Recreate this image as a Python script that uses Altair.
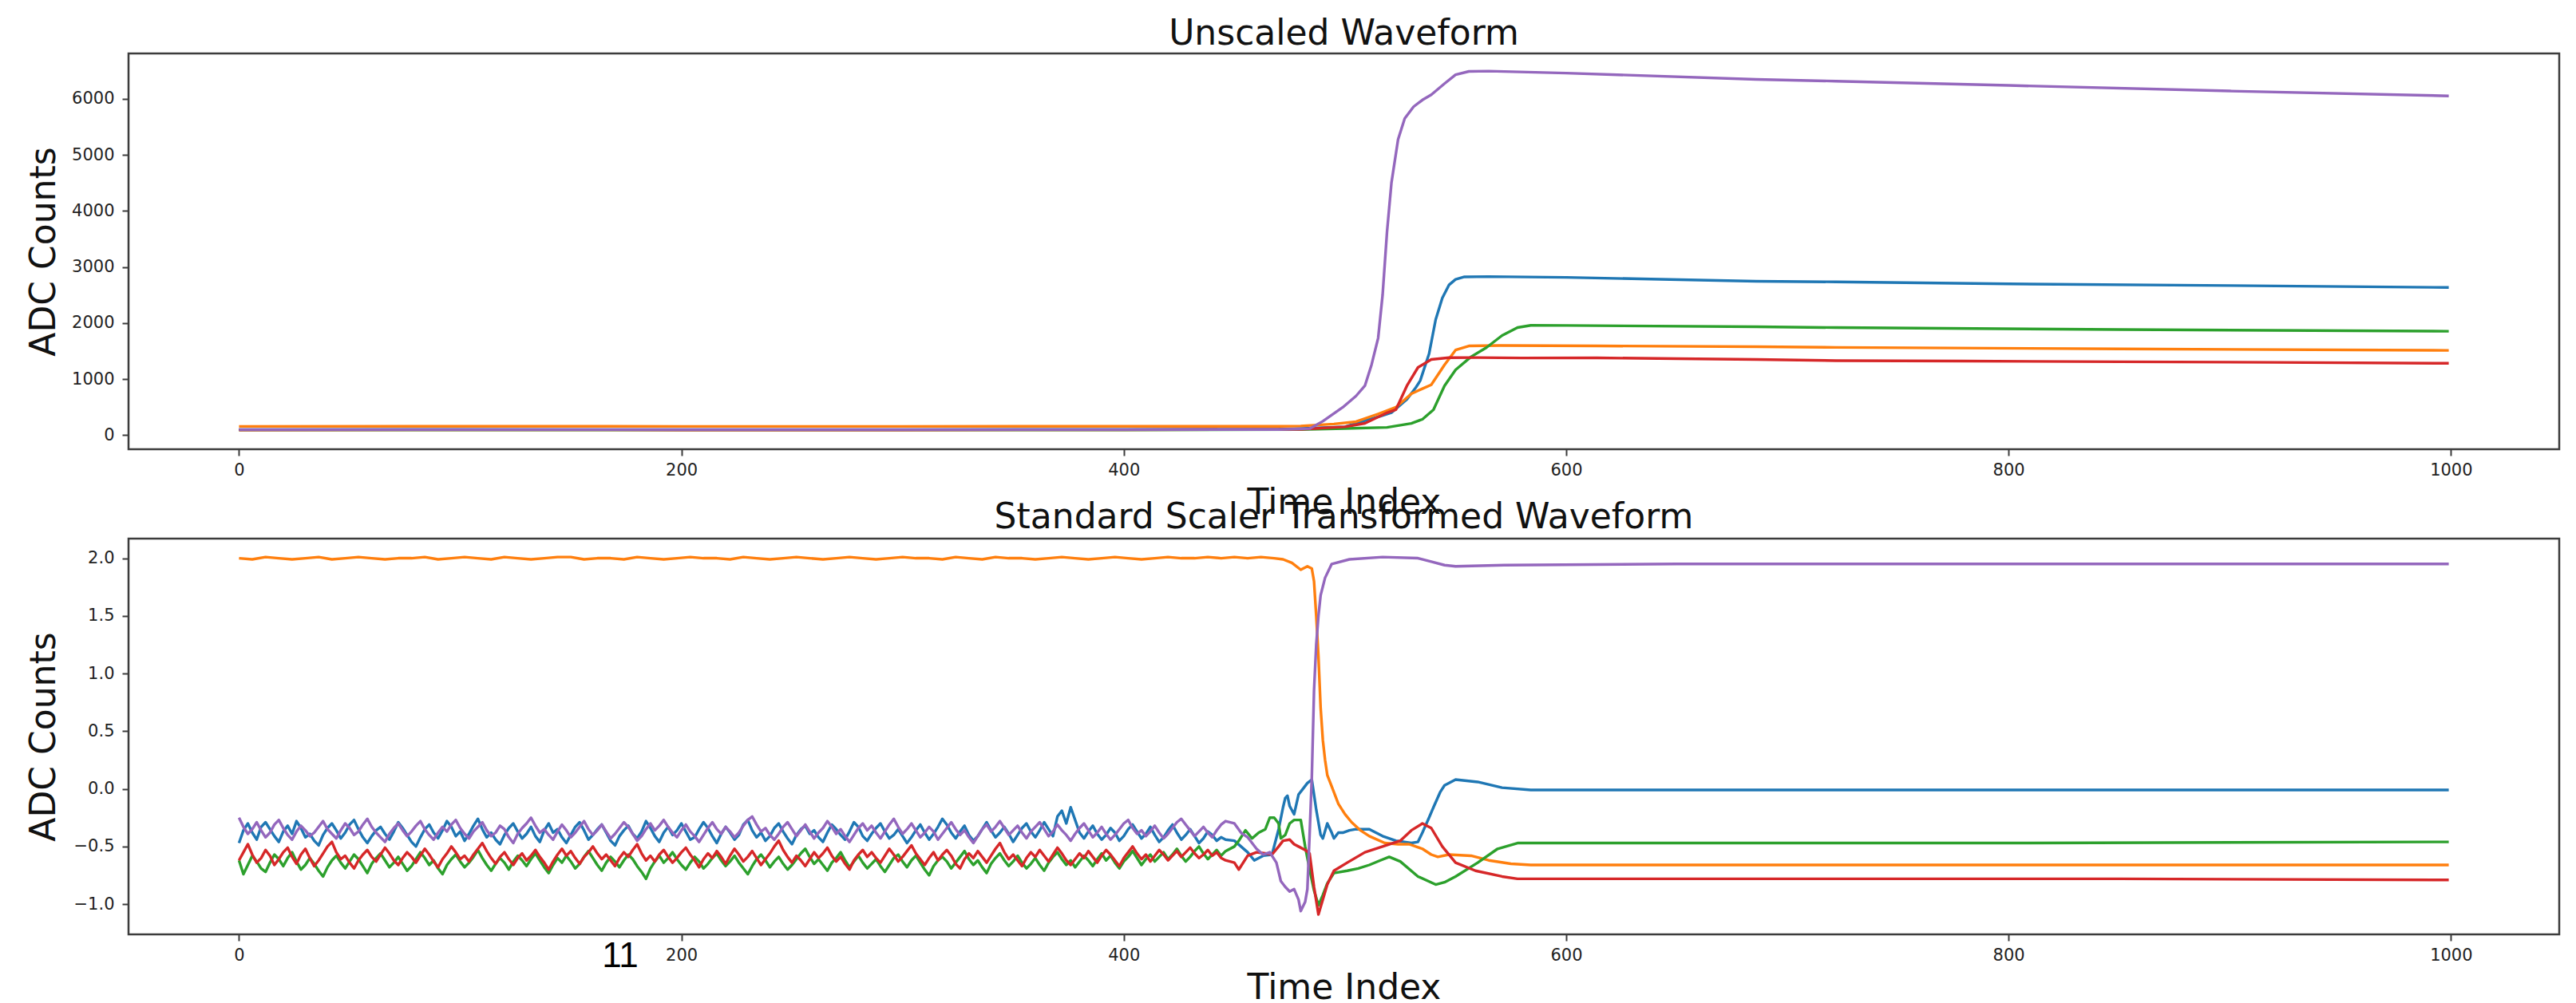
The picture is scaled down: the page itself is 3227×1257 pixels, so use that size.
import altair as alt
import pandas as pd

# Five waveform channels, matplotlib tab10 colours, drawn in this order
channels = ["ch0", "ch1", "ch2", "ch3", "ch4"]
colors = ["#1f77b4", "#ff7f0e", "#2ca02c", "#d62728", "#9467bd"]

x_ticks = [0, 200, 400, 600, 800, 1000]
top_y_ticks = [0, 1000, 2000, 3000, 4000, 5000, 6000]
bottom_y_ticks = [-1.0, -0.5, 0.0, 0.5, 1.0, 1.5, 2.0]
panel_titles = ["Unscaled Waveform", "Standard Scaler Transformed Waveform"]
page_label = ["11"]

# ---------------- Unscaled waveform (ADC counts) ----------------
blue_top_t = [0, 100, 200, 300, 400, 470, 500, 509, 516, 521, 528, 532, 534, 538, 541, 544, 547, 550, 554, 565, 600, 686, 722, 800, 900, 999]
blue_top_v = [101, 102, 100, 101, 102, 105, 150, 260, 340, 403, 640, 850, 972, 1450, 2063, 2446, 2680, 2780, 2825, 2830, 2815, 2747, 2735, 2700, 2670, 2635]

orange_top_t = [0, 100, 200, 300, 400, 470, 480, 495, 505, 515, 523, 530, 535, 539, 545, 550, 556, 570, 614, 686, 722, 850, 999]
orange_top_v = [158, 159, 158, 158, 159, 160, 165, 200, 242, 380, 498, 740, 830, 900, 1256, 1520, 1593, 1600, 1593, 1579, 1566, 1540, 1513]

green_top_t = [0, 100, 200, 300, 400, 480, 500, 519, 530, 535, 540, 545, 550, 557, 564, 571, 578, 584, 600, 686, 722, 850, 999]
green_top_v = [95, 96, 95, 95, 96, 100, 120, 140, 210, 284, 455, 882, 1166, 1399, 1565, 1778, 1920, 1960, 1958, 1934, 1920, 1885, 1855]

red_top_t = [0, 100, 200, 300, 400, 480, 500, 509, 519, 523, 528, 533, 539, 547, 560, 580, 614, 650, 686, 722, 780, 850, 920, 999]
red_top_v = [96, 97, 96, 96, 97, 105, 150, 213, 400, 455, 882, 1209, 1351, 1384, 1385, 1378, 1380, 1365, 1351, 1330, 1322, 1310, 1300, 1283]

purple_top_t = [0, 100, 200, 300, 400, 470, 484, 490, 499, 505, 509, 512, 515, 517, 519, 521, 524, 527, 531, 535, 539, 545, 550, 556, 565, 600, 686, 722, 800, 900, 999]
purple_top_v = [101, 100, 101, 100, 101, 102, 118, 250, 498, 700, 882, 1256, 1735, 2500, 3627, 4500, 5277, 5650, 5860, 5980, 6074, 6273, 6430, 6490, 6495, 6460, 6347, 6316, 6240, 6140, 6053]

# ---------------- Standard-scaled waveform ----------------
# pre-trigger baseline, one value every 2 samples (t = 0 .. 446)
noise_t = list(range(0, 447, 2))
blue_noise = [
    -0.47, -0.36, -0.30, -0.38, -0.44, -0.33, -0.29, -0.35, -0.41, -0.46, -0.37, -0.32, -0.39, -0.28, -0.34, -0.42,
    -0.39, -0.45, -0.49, -0.40, -0.34, -0.30, -0.36, -0.43, -0.38, -0.31, -0.27, -0.35, -0.42, -0.47, -0.41, -0.36,
    -0.33, -0.39, -0.44, -0.37, -0.29, -0.34, -0.40, -0.46, -0.50, -0.42, -0.35, -0.31, -0.38, -0.43, -0.36, -0.28,
    -0.33, -0.41, -0.37, -0.45, -0.39, -0.32, -0.26, -0.35, -0.42, -0.38, -0.44, -0.48, -0.40, -0.34, -0.30, -0.37,
    -0.43, -0.39, -0.33, -0.41, -0.46, -0.36, -0.30, -0.38, -0.35, -0.42, -0.47, -0.40, -0.33, -0.29, -0.36, -0.44,
    -0.40, -0.35, -0.31, -0.38, -0.45, -0.49, -0.41, -0.36, -0.32, -0.39, -0.43, -0.37, -0.28, -0.34, -0.41, -0.46,
    -0.38, -0.33, -0.40, -0.36, -0.30, -0.37, -0.44, -0.42, -0.35, -0.29, -0.34, -0.41, -0.47, -0.39, -0.33, -0.38,
    -0.44, -0.40, -0.31, -0.27, -0.36, -0.42, -0.38, -0.45, -0.41, -0.34, -0.30, -0.37, -0.43, -0.48, -0.40, -0.35,
    -0.32, -0.39, -0.36, -0.42, -0.46, -0.38, -0.31, -0.35, -0.40, -0.44, -0.37, -0.29, -0.33, -0.41, -0.45, -0.39,
    -0.34, -0.30, -0.37, -0.43, -0.40, -0.35, -0.41, -0.47, -0.42, -0.36, -0.31, -0.38, -0.44, -0.39, -0.33, -0.26,
    -0.31, -0.38, -0.43, -0.37, -0.32, -0.40, -0.45, -0.41, -0.35, -0.29, -0.36, -0.42, -0.38, -0.33, -0.39, -0.46,
    -0.40, -0.34, -0.30, -0.37, -0.42, -0.36, -0.29, -0.35, -0.41, -0.24, -0.19, -0.30, -0.16, -0.27, -0.38, -0.43,
    -0.37, -0.32, -0.39, -0.44, -0.40, -0.34, -0.38, -0.45, -0.41, -0.35, -0.31, -0.37, -0.43, -0.39, -0.33, -0.40,
    -0.46, -0.42, -0.36, -0.31, -0.38, -0.44, -0.40, -0.35, -0.41, -0.47, -0.43, -0.37, -0.40, -0.45, -0.42, -0.44,
]
purple_noise = [
    -0.25, -0.33, -0.39, -0.35, -0.29, -0.36, -0.42, -0.38, -0.31, -0.27, -0.34, -0.40, -0.44, -0.37, -0.32, -0.36,
    -0.41, -0.38, -0.33, -0.28, -0.35, -0.39, -0.43, -0.36, -0.30, -0.34, -0.40, -0.37, -0.31, -0.26, -0.33, -0.38,
    -0.42, -0.46, -0.39, -0.34, -0.30, -0.36, -0.41, -0.37, -0.32, -0.28, -0.35, -0.40, -0.44, -0.38, -0.33, -0.37,
    -0.31, -0.27, -0.34, -0.39, -0.43, -0.37, -0.33, -0.29, -0.36, -0.41, -0.38, -0.32, -0.35, -0.42, -0.47, -0.39,
    -0.34, -0.30, -0.25, -0.32, -0.38, -0.35, -0.40, -0.44, -0.37, -0.31, -0.36, -0.42, -0.38, -0.33, -0.28, -0.35,
    -0.40, -0.36, -0.31, -0.37, -0.43, -0.39, -0.34, -0.29, -0.33, -0.39, -0.45, -0.41, -0.35, -0.30, -0.36, -0.32,
    -0.27, -0.33, -0.38, -0.42, -0.36, -0.31, -0.37, -0.41, -0.46, -0.40, -0.34, -0.29, -0.35, -0.39, -0.33, -0.37,
    -0.42, -0.38, -0.32, -0.27, -0.24, -0.31, -0.37, -0.34, -0.40, -0.44, -0.39, -0.33, -0.29, -0.35, -0.41, -0.36,
    -0.31, -0.37, -0.43, -0.38, -0.34, -0.28, -0.33, -0.39, -0.35, -0.41, -0.46, -0.40, -0.34, -0.30, -0.36, -0.32,
    -0.38, -0.43, -0.37, -0.31, -0.26, -0.33, -0.39, -0.35, -0.30, -0.36, -0.42, -0.38, -0.33, -0.37, -0.44, -0.39,
    -0.34, -0.29, -0.35, -0.40, -0.36, -0.42, -0.47, -0.41, -0.35, -0.31, -0.37, -0.33, -0.28, -0.34, -0.40, -0.36,
    -0.32, -0.38, -0.43, -0.37, -0.33, -0.29, -0.35, -0.41, -0.37, -0.31, -0.36, -0.40, -0.45, -0.39, -0.34, -0.30,
    -0.36, -0.42, -0.38, -0.33, -0.39, -0.44, -0.40, -0.35, -0.30, -0.27, -0.34, -0.39, -0.36, -0.41, -0.37, -0.32,
    -0.38, -0.43, -0.39, -0.34, -0.29, -0.26, -0.31, -0.36, -0.41, -0.37, -0.33, -0.38, -0.42, -0.36, -0.31, -0.28,
]
red_noise = [
    -0.62, -0.55, -0.48, -0.57, -0.64, -0.60, -0.53, -0.58, -0.66, -0.61, -0.55, -0.51, -0.59, -0.65, -0.57, -0.52,
    -0.60, -0.67, -0.62, -0.56, -0.50, -0.46, -0.55, -0.61, -0.58, -0.64, -0.69, -0.62, -0.57, -0.53, -0.59, -0.63,
    -0.57, -0.51, -0.56, -0.62, -0.66, -0.60, -0.55, -0.59, -0.64, -0.58, -0.52, -0.57, -0.63, -0.68, -0.61, -0.56,
    -0.50, -0.55, -0.61, -0.58, -0.63, -0.57, -0.52, -0.47, -0.54, -0.60, -0.65, -0.59, -0.55, -0.61, -0.66, -0.60,
    -0.56, -0.62, -0.58, -0.53, -0.59, -0.64, -0.70, -0.63, -0.57, -0.52, -0.58, -0.54, -0.60, -0.65, -0.59, -0.55,
    -0.50, -0.56, -0.61, -0.57, -0.62, -0.67, -0.60, -0.55, -0.59, -0.53, -0.48, -0.56, -0.62, -0.58, -0.63, -0.57,
    -0.53, -0.59, -0.64, -0.60, -0.55, -0.51, -0.57, -0.62, -0.68, -0.61, -0.56, -0.60, -0.54, -0.59, -0.65, -0.58,
    -0.52, -0.57, -0.63, -0.59, -0.54, -0.60, -0.66, -0.61, -0.56, -0.50, -0.45, -0.53, -0.59, -0.64, -0.58, -0.62,
    -0.67, -0.61, -0.55, -0.60, -0.56, -0.51, -0.58, -0.63, -0.59, -0.65, -0.70, -0.62, -0.57, -0.53, -0.59, -0.55,
    -0.60, -0.64, -0.58, -0.52, -0.57, -0.63, -0.59, -0.54, -0.49, -0.56, -0.61, -0.66, -0.60, -0.55, -0.62, -0.57,
    -0.53, -0.58, -0.65, -0.69, -0.61, -0.56, -0.60, -0.54, -0.59, -0.64, -0.58, -0.52, -0.47, -0.55, -0.61, -0.57,
    -0.62, -0.67, -0.60, -0.55, -0.59, -0.53, -0.58, -0.63, -0.57, -0.51, -0.56, -0.62, -0.66, -0.61, -0.56, -0.60,
    -0.54, -0.59, -0.64, -0.58, -0.53, -0.57, -0.62, -0.67, -0.60, -0.55, -0.50, -0.56, -0.61, -0.57, -0.63, -0.58,
    -0.53, -0.57, -0.62, -0.58, -0.54, -0.59, -0.55, -0.51, -0.56, -0.60, -0.57, -0.53, -0.58, -0.55, -0.60, -0.62,
]
green_noise = [
    -0.62, -0.74, -0.66, -0.58, -0.63, -0.69, -0.72, -0.64, -0.57, -0.61, -0.67, -0.60, -0.55, -0.63, -0.70, -0.66,
    -0.60, -0.65, -0.71, -0.76, -0.68, -0.62, -0.58, -0.64, -0.69, -0.63, -0.57, -0.61, -0.67, -0.73, -0.65, -0.60,
    -0.56, -0.62, -0.68, -0.64, -0.59, -0.65, -0.71, -0.67, -0.61, -0.55, -0.60, -0.66, -0.62, -0.69, -0.74, -0.66,
    -0.61, -0.57, -0.63, -0.68, -0.64, -0.59, -0.53, -0.60, -0.66, -0.71, -0.65, -0.60, -0.64, -0.70, -0.63, -0.58,
    -0.62, -0.67, -0.61, -0.56, -0.62, -0.68, -0.73, -0.66, -0.60, -0.64, -0.58, -0.63, -0.69, -0.65, -0.59, -0.54,
    -0.60, -0.66, -0.71, -0.64, -0.59, -0.63, -0.68, -0.62, -0.57, -0.61, -0.67, -0.72, -0.78, -0.69, -0.63, -0.58,
    -0.64, -0.60, -0.55, -0.61, -0.66, -0.70, -0.64, -0.59, -0.63, -0.69, -0.65, -0.60, -0.56, -0.62, -0.67, -0.63,
    -0.58, -0.64, -0.69, -0.74, -0.67, -0.61, -0.57, -0.62, -0.68, -0.63, -0.59, -0.65, -0.70, -0.66, -0.61, -0.56,
    -0.52, -0.59, -0.65, -0.61, -0.66, -0.71, -0.64, -0.60, -0.55, -0.62, -0.68, -0.63, -0.58, -0.64, -0.69, -0.65,
    -0.61, -0.67, -0.72, -0.66, -0.60, -0.57, -0.63, -0.68, -0.62, -0.58, -0.64, -0.70, -0.75, -0.67, -0.62, -0.59,
    -0.63, -0.69, -0.64, -0.59, -0.54, -0.61, -0.66, -0.62, -0.68, -0.73, -0.65, -0.60, -0.56, -0.62, -0.67, -0.63,
    -0.58, -0.64, -0.69, -0.65, -0.60, -0.66, -0.71, -0.64, -0.59, -0.55, -0.61, -0.66, -0.62, -0.68, -0.63, -0.58,
    -0.62, -0.67, -0.61, -0.56, -0.62, -0.58, -0.64, -0.69, -0.63, -0.59, -0.54, -0.60, -0.66, -0.61, -0.57, -0.63,
    -0.59, -0.55, -0.61, -0.57, -0.52, -0.58, -0.63, -0.59, -0.54, -0.50, -0.56, -0.61, -0.57, -0.53, -0.58, -0.54,
]
# orange baseline, one value every 6 samples (t = 0 .. 444)
orange_noise_t = list(range(0, 445, 6))
orange_noise = [
    2.00, 1.99, 2.01, 2.00, 1.99, 2.00, 2.01, 1.99, 2.00, 2.01, 2.00, 1.99, 2.00, 2.00, 2.01,
    1.99, 2.00, 2.01, 2.00, 1.99, 2.01, 2.00, 1.99, 2.00, 2.01, 2.01, 1.99, 2.00, 2.00, 1.99,
    2.01, 2.00, 1.99, 2.00, 2.01, 2.00, 2.00, 1.99, 2.01, 2.00, 1.99, 2.00, 2.01, 2.00, 1.99,
    2.00, 2.01, 2.00, 1.99, 2.00, 2.01, 2.00, 2.00, 1.99, 2.01, 2.00, 1.99, 2.01, 2.00, 2.00,
    1.99, 2.00, 2.01, 2.00, 1.99, 2.00, 2.01, 2.00, 1.99, 2.00, 2.01, 2.00, 2.00, 2.01, 2.00,
]

# trigger region and settled tail
blue_bot_t = [450, 453, 456, 459, 463, 467, 470, 472, 473, 474, 475, 477, 479, 481, 483, 485, 486, 487, 489, 490,
              492, 494, 495, 497, 499, 502, 505, 511, 517, 523, 530, 533, 535, 538, 540, 543, 545, 550, 555, 560,
              571, 584, 650, 700, 800, 900, 999]
blue_bot_v = [-0.45, -0.50, -0.55, -0.62, -0.58, -0.57, -0.35, -0.16, -0.08, -0.06, -0.15, -0.22, -0.05, 0.00, 0.05, 0.08, -0.05, -0.18, -0.40, -0.43,
              -0.30, -0.38, -0.43, -0.38, -0.38, -0.36, -0.35, -0.35, -0.41, -0.45, -0.47, -0.46, -0.38, -0.25, -0.16, -0.03, 0.03, 0.08, 0.07, 0.06,
              0.01, -0.01, -0.01, -0.01, -0.01, -0.01, -0.01]

orange_bot_t = [450, 456, 462, 468, 472, 476, 480, 483, 485, 486, 487, 488, 489, 490, 491, 492, 494, 497, 500, 503,
                507, 511, 518, 524, 529, 535, 539, 542, 547, 557, 565, 575, 584, 600, 700, 800, 900, 999]
orange_bot_v = [2.01, 2.00, 2.01, 2.00, 1.99, 1.96, 1.90, 1.93, 1.91, 1.80, 1.50, 1.15, 0.70, 0.42, 0.25, 0.12, 0.02, -0.13, -0.22, -0.29,
                -0.36, -0.41, -0.47, -0.48, -0.48, -0.52, -0.57, -0.59, -0.57, -0.58, -0.62, -0.65, -0.66, -0.66, -0.66, -0.66, -0.66, -0.66]

green_bot_t = [450, 452, 455, 458, 461, 464, 466, 468, 470, 471, 473, 475, 477, 480, 482, 484, 486, 488, 490, 492,
               495, 501, 506, 511, 516, 520, 525, 533, 541, 545, 550, 560, 569, 578, 600, 800, 999]
green_bot_v = [-0.50, -0.45, -0.36, -0.43, -0.38, -0.35, -0.25, -0.25, -0.30, -0.43, -0.40, -0.30, -0.27, -0.27, -0.50, -0.70, -0.88, -1.01, -0.92, -0.82,
               -0.73, -0.71, -0.69, -0.66, -0.62, -0.59, -0.63, -0.76, -0.83, -0.81, -0.76, -0.64, -0.52, -0.47, -0.47, -0.47, -0.46]

red_bot_t = [450, 452, 456, 460, 464, 467, 470, 472, 475, 477, 479, 482, 484, 486, 488, 490, 492, 495, 501, 509,
             517, 525, 530, 535, 539, 544, 550, 559, 571, 578, 700, 850, 999]
red_bot_v = [-0.64, -0.70, -0.58, -0.55, -0.56, -0.57, -0.50, -0.45, -0.44, -0.48, -0.50, -0.53, -0.56, -0.85, -1.09, -0.96, -0.83, -0.71, -0.64, -0.55,
             -0.50, -0.45, -0.36, -0.30, -0.34, -0.50, -0.64, -0.71, -0.76, -0.78, -0.78, -0.78, -0.79]

purple_bot_t = [450, 453, 456, 460, 463, 466, 469, 471, 473, 475, 477, 479, 480, 482, 483, 484, 485, 486, 487, 488,
                489, 491, 494, 502, 517, 533, 539, 545, 550, 572, 650, 800, 999]
purple_bot_v = [-0.30, -0.38, -0.42, -0.52, -0.57, -0.55, -0.64, -0.80, -0.85, -0.89, -0.87, -0.96, -1.06, -0.98, -0.87, -0.40, 0.10, 0.85, 1.25, 1.50,
                1.68, 1.83, 1.95, 1.99, 2.01, 2.00, 1.97, 1.94, 1.93, 1.94, 1.95, 1.95, 1.95]


def long_table(series):
    rows = []
    for ch, ts, vs in series:
        for t, v in zip(ts, vs):
            rows.append({"t": t, "v": v, "ch": ch})
    return pd.DataFrame(rows)


top_df = long_table([
    ("ch0", blue_top_t, blue_top_v),
    ("ch1", orange_top_t, orange_top_v),
    ("ch2", green_top_t, green_top_v),
    ("ch3", red_top_t, red_top_v),
    ("ch4", purple_top_t, purple_top_v),
])
bottom_df = long_table([
    ("ch0", noise_t + blue_bot_t, blue_noise + blue_bot_v),
    ("ch1", orange_noise_t + orange_bot_t, orange_noise + orange_bot_v),
    ("ch2", noise_t + green_bot_t, green_noise + green_bot_v),
    ("ch3", noise_t + red_bot_t, red_noise + red_bot_v),
    ("ch4", noise_t + purple_bot_t, purple_noise + purple_bot_v),
])

W, H = 3045, 496
FONT = "DejaVu Sans"


def panel(df, title, y_domain, y_ticks, y_fmt, title_gap):
    lines = alt.Chart(df).mark_line(strokeWidth=3.4, strokeJoin="round").encode(
        x=alt.X("t:Q",
                scale=alt.Scale(domain=[-49.95, 1048.95], nice=False, zero=False),
                axis=alt.Axis(values=x_ticks, format="d", title="Time Index",
                              labelPadding=7, titleY=80, titleBaseline="alphabetic")),
        y=alt.Y("v:Q",
                scale=alt.Scale(domain=y_domain, nice=False, zero=False),
                axis=alt.Axis(values=y_ticks, format=y_fmt, title="ADC Counts",
                              labelPadding=10, titleX=-93, titleY=H / 2,
                              titleBaseline="alphabetic", titleAlign="center")),
        color=alt.Color("ch:N", scale=alt.Scale(domain=channels, range=colors), legend=None),
    )
    heading = alt.Chart(pd.DataFrame({"label": [title]})).mark_text(
        font=FONT, fontSize=44, color="#111111", align="center", baseline="alphabetic"
    ).encode(text="label:N", x=alt.value(W / 2), y=alt.value(-title_gap))
    return lines, heading


top_lines, top_heading = panel(top_df, panel_titles[0], [-250, 6810], top_y_ticks, "d", 11)
top = alt.layer(top_lines, top_heading).properties(width=W, height=H)

bottom_lines, bottom_heading = panel(bottom_df, panel_titles[1], [-1.262, 2.17],
                                     bottom_y_ticks, ".1f", 13)
page_text = alt.Chart(pd.DataFrame({"label": page_label})).mark_text(
    font="Liberation Sans", fontSize=44, color="black", align="center", baseline="alphabetic"
).encode(text="label:N", x=alt.value(616), y=alt.value(537))
bottom = alt.layer(bottom_lines, bottom_heading, page_text).properties(width=W, height=H)

chart = alt.vconcat(top, bottom, spacing=112, bounds="flush").properties(
    padding={"left": 31, "top": 19, "right": 10, "bottom": 5},
    background="white",
).configure_view(
    stroke="#3c3c3c", strokeWidth=2.5
).configure_axis(
    domain=False, grid=False, ticks=True, tickColor="#3c3c3c", tickWidth=2, tickSize=8,
    labelFont=FONT, labelFontSize=21, labelColor="#222222",
    titleFont=FONT, titleFontSize=44, titleFontWeight="normal", titleColor="#111111",
)

chart.save("out.html", embed_options={"renderer": "svg", "actions": False})
